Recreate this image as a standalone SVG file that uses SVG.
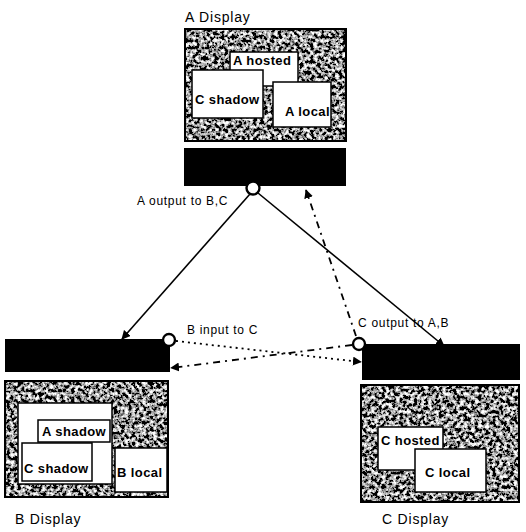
<svg xmlns="http://www.w3.org/2000/svg" width="526" height="532" viewBox="0 0 526 532">
<defs>
<filter id="grain" x="0" y="0" width="100%" height="100%">
<feTurbulence type="fractalNoise" baseFrequency="0.28" numOctaves="3" seed="7" result="n"/>
<feColorMatrix in="n" type="matrix" values="3.4 0 0 0 -1.4  3.4 0 0 0 -1.4  3.4 0 0 0 -1.4  0 0 0 0 1" result="g"/>
<feComposite in="g" in2="SourceGraphic" operator="in"/>
</filter>
<marker id="ah" viewBox="0 0 10 10" refX="9" refY="5" markerWidth="9" markerHeight="9" markerUnits="userSpaceOnUse" orient="auto">
<path d="M0,0 L10,5 L0,10 z" fill="#000"/>
</marker>
</defs>
<style>
.screen{fill:#666;filter:url(#grain)}
.frame{fill:none;stroke:#000;stroke-width:2}
.bar{fill:#000}
.win{fill:#fff;stroke:#000;stroke-width:1.5}
.wl{font-family:"Liberation Sans",Arial,sans-serif;font-weight:bold;font-size:13px;fill:#000;letter-spacing:0.4px}
.title{font-family:"Liberation Sans",Arial,sans-serif;font-size:14px;fill:#000;letter-spacing:0.8px}
.el{font-family:"Liberation Sans",Arial,sans-serif;font-size:12px;fill:#000;letter-spacing:0.7px}
.port{fill:#fff;stroke:#000;stroke-width:2.4}
.solid{stroke:#000;stroke-width:1.6;fill:none}
.dashdot{stroke:#000;stroke-width:1.8;fill:none;stroke-dasharray:7 5 2 5}
.dotted{stroke:#000;stroke-width:1.8;fill:none;stroke-dasharray:2 4}
</style>
<rect width="526" height="532" fill="#fff"/>

<g id="displayA">
<text class="title" x="185" y="22">A Display</text>
<rect class="screen" x="185" y="29" width="161" height="112"/>
<rect class="frame" x="185" y="29" width="161" height="112"/>
<rect class="win" x="230" y="52" width="68" height="34"/>
<text class="wl" x="233" y="65">A hosted</text>
<rect class="win" x="192" y="70" width="71" height="48"/>
<text class="wl" x="195" y="104">C shadow</text>
<rect class="win" x="273" y="82" width="58" height="45"/>
<text class="wl" x="285" y="116">A local</text>
</g>
<g id="hostA">
<rect class="bar" x="184" y="148" width="162" height="38"/>
</g>

<g id="displayB">
<rect class="bar" x="5" y="339" width="165" height="33"/>
<rect class="screen" x="5" y="381" width="163" height="116"/>
<rect class="frame" x="5" y="381" width="163" height="116"/>
<rect class="win" x="18" y="403" width="94" height="81"/>
<rect class="win" x="38" y="420" width="72" height="22"/>
<text class="wl" x="42" y="436">A shadow</text>
<rect class="win" x="22" y="443" width="70" height="38"/>
<text class="wl" x="24" y="473">C shadow</text>
<rect class="win" x="115" y="448" width="52" height="44"/>
<text class="wl" x="117" y="477">B local</text>
<text class="title" x="15" y="524">B Display</text>
</g>

<g id="displayC">
<rect class="bar" x="362" y="344" width="158" height="36"/>
<rect class="screen" x="361" y="385" width="158" height="117"/>
<rect class="frame" x="361" y="385" width="158" height="117"/>
<rect class="win" x="378" y="427" width="65" height="43"/>
<text class="wl" x="381" y="445">C hosted</text>
<rect class="win" x="415" y="449" width="71" height="43"/>
<text class="wl" x="425" y="477">C local</text>
<text class="title" x="382" y="524">C Display</text>
</g>

<g id="connectors">
<line class="solid" x1="250" y1="194" x2="122" y2="339" marker-end="url(#ah)"/>
<line class="solid" x1="258" y1="193" x2="444" y2="346" marker-end="url(#ah)"/>
<line class="dashdot" x1="356" y1="336" x2="306" y2="190" marker-end="url(#ah)"/>
<line class="dashdot" x1="352" y1="345" x2="171" y2="368" marker-end="url(#ah)"/>
<line class="dotted" x1="176" y1="341" x2="361" y2="362" marker-end="url(#ah)"/>
<circle class="port" cx="253" cy="188" r="6.5"/>
<circle class="port" cx="169" cy="340" r="6"/>
<circle class="port" cx="359" cy="344" r="6"/>
<text class="el" x="137" y="205">A output to B,C</text>
<text class="el" x="187" y="334">B input to C</text>
<text class="el" x="358" y="327">C output to A,B</text>
</g>
</svg>
